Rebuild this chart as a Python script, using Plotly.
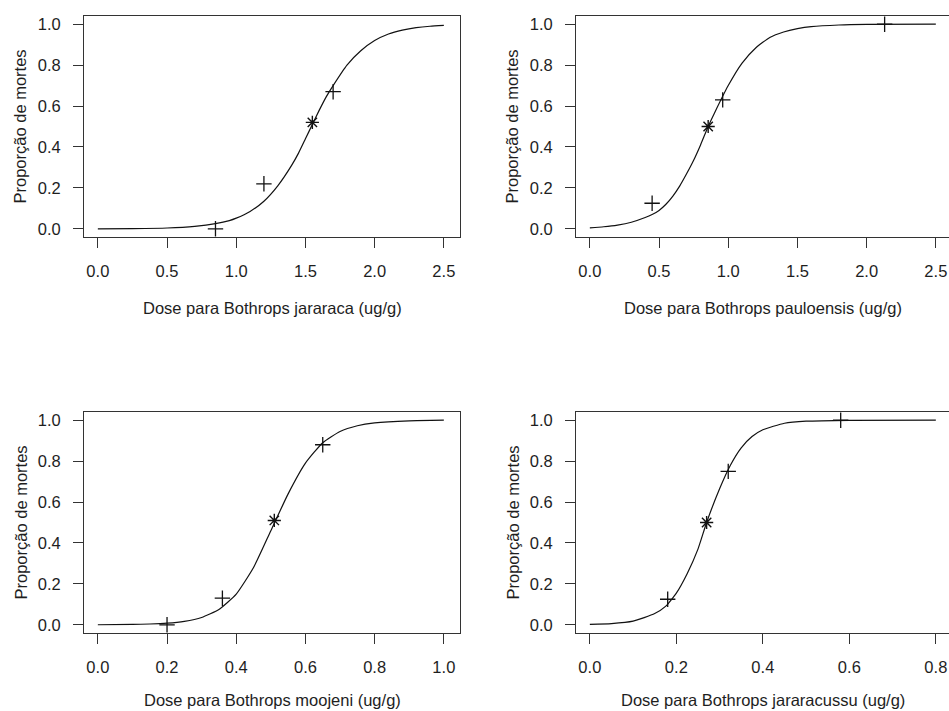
import plotly.graph_objects as go

# ---------------- data ----------------
# Bothrops jararaca
jar_dose = [0.85, 1.20, 1.70]
jar_prop = [0.00, 0.22, 0.67]
jar_ld50_x = [1.55]
jar_ld50_y = [0.52]
jar_curve_x = [0.0, 0.25, 0.5, 0.7, 0.85, 0.95, 1.0, 1.1, 1.2, 1.3, 1.4, 1.45, 1.5, 1.55, 1.6, 1.65, 1.7, 1.8, 1.9, 2.0, 2.1, 2.2, 2.3, 2.4, 2.5]
jar_curve_y = [0.000, 0.001, 0.004, 0.012, 0.025, 0.040, 0.052, 0.085, 0.135, 0.21, 0.31, 0.37, 0.44, 0.51, 0.58, 0.645, 0.70, 0.80, 0.87, 0.92, 0.952, 0.971, 0.983, 0.990, 0.994]

# Bothrops pauloensis
pau_dose = [0.45, 0.96, 2.13]
pau_prop = [0.125, 0.63, 1.00]
pau_ld50_x = [0.855]
pau_ld50_y = [0.50]
pau_curve_x = [0.0, 0.1, 0.2, 0.3, 0.4, 0.45, 0.5, 0.55, 0.6, 0.65, 0.7, 0.75, 0.8, 0.855, 0.9, 1.0, 1.1, 1.2, 1.3, 1.4, 1.5, 1.6, 1.8, 2.0, 2.5]
pau_curve_y = [0.005, 0.010, 0.018, 0.032, 0.055, 0.070, 0.090, 0.12, 0.16, 0.21, 0.27, 0.335, 0.41, 0.50, 0.565, 0.70, 0.81, 0.885, 0.935, 0.962, 0.978, 0.988, 0.996, 0.999, 1.0]

# Bothrops moojeni
moo_dose = [0.20, 0.36, 0.65]
moo_prop = [0.00, 0.13, 0.88]
moo_ld50_x = [0.51]
moo_ld50_y = [0.51]
moo_curve_x = [0.0, 0.1, 0.15, 0.2, 0.25, 0.3, 0.35, 0.4, 0.45, 0.5, 0.55, 0.6, 0.65, 0.7, 0.75, 0.8, 0.9, 1.0]
moo_curve_y = [0.0004, 0.002, 0.004, 0.008, 0.017, 0.036, 0.075, 0.15, 0.28, 0.46, 0.64, 0.79, 0.89, 0.945, 0.973, 0.987, 0.997, 1.0]

# Bothrops jararacussu
jcu_dose = [0.18, 0.32, 0.58]
jcu_prop = [0.125, 0.75, 1.00]
jcu_ld50_x = [0.27]
jcu_ld50_y = [0.50]
jcu_curve_x = [0.0, 0.05, 0.1, 0.15, 0.175, 0.2, 0.225, 0.25, 0.27, 0.3, 0.325, 0.35, 0.375, 0.4, 0.45, 0.5, 0.6, 0.8]
jcu_curve_y = [0.002, 0.006, 0.018, 0.055, 0.09, 0.155, 0.25, 0.37, 0.50, 0.665, 0.78, 0.865, 0.92, 0.953, 0.985, 0.995, 0.9995, 1.0]

x_titles = ["Dose para Bothrops jararaca (ug/g)", "Dose para Bothrops pauloensis (ug/g)",
            "Dose para Bothrops moojeni (ug/g)", "Dose para Bothrops jararacussu (ug/g)"]
y_title = "Proporção de mortes"
x_ticks = [[0.0, 0.5, 1.0, 1.5, 2.0, 2.5], [0.0, 0.5, 1.0, 1.5, 2.0, 2.5],
           [0.0, 0.2, 0.4, 0.6, 0.8, 1.0], [0.0, 0.2, 0.4, 0.6, 0.8]]
y_ticks = [0.0, 0.2, 0.4, 0.6, 0.8, 1.0]

series = [
    (jar_curve_x, jar_curve_y, jar_dose, jar_prop, jar_ld50_x, jar_ld50_y),
    (pau_curve_x, pau_curve_y, pau_dose, pau_prop, pau_ld50_x, pau_ld50_y),
    (moo_curve_x, moo_curve_y, moo_dose, moo_prop, moo_ld50_x, moo_ld50_y),
    (jcu_curve_x, jcu_curve_y, jcu_dose, jcu_prop, jcu_ld50_x, jcu_ld50_y),
]

# ---------------- layout geometry (pixels) ----------------
W, H = 949, 711
# box left/right pixels, x-range start, pixels per unit
boxes_x = [(84, 460, -0.1, 138.4), (576, 949, -0.1, 138.4),
           (84, 460, -0.04, 346.0), (576, 949, -0.032, 432.5)]
boxes_y = [(16, 237), (16, 237), (412, 633), (412, 633)]
title_gap = [71, 71, 67, 67]

FONT = "Liberation Sans, Arial, sans-serif"
TXT = "#1e1e1e"
LINE = "#333333"
INK = "#111111"
FS = 16.5

fig = go.Figure()
layout = dict(width=W, height=H, margin=dict(l=0, r=0, t=0, b=0, pad=0),
              paper_bgcolor="white", plot_bgcolor="white", showlegend=False,
              font=dict(family=FONT, size=FS, color=TXT))
annotations = []

for i, (cx, cy, dx, dy, lx, ly) in enumerate(series):
    n = "" if i == 0 else str(i + 1)
    xa, ya = "x" + n, "y" + n
    fig.add_trace(go.Scatter(x=cx, y=cy, mode="lines",
                             line=dict(color=INK, width=1.2, shape="spline", smoothing=0.5),
                             xaxis=xa, yaxis=ya, hoverinfo="skip"))
    fig.add_trace(go.Scatter(x=dx, y=dy, mode="markers",
                             marker=dict(symbol="cross-thin", size=11, color=INK,
                                         line=dict(color=INK, width=1.3)),
                             xaxis=xa, yaxis=ya))
    fig.add_trace(go.Scatter(x=lx, y=ly, mode="markers",
                             marker=dict(symbol="asterisk-open", size=11, color=INK,
                                         line=dict(color=INK, width=1.4)),
                             xaxis=xa, yaxis=ya))

    l, r, x0, ppu = boxes_x[i]
    t, b = boxes_y[i]
    x1 = x0 + (r - l) / ppu
    common = dict(showline=True, mirror=True, linecolor=LINE, linewidth=1, ticks="outside",
                  ticklen=10, tickcolor=LINE, tickwidth=1, showgrid=False, zeroline=False,
                  tickfont=dict(family=FONT, size=FS, color=TXT), tickformat=".1f",
                  ticklabelstandoff=9, automargin=False)
    layout["xaxis" + n] = dict(common, domain=[l / W, min(r / W, 1.0)], range=[x0, x1],
                               tickvals=x_ticks[i], anchor=ya)
    layout["yaxis" + n] = dict(common, domain=[1 - b / H, 1 - t / H], range=[-0.04, 1.04],
                               tickvals=y_ticks, anchor=xa)
    # x title
    annotations.append(dict(text=x_titles[i], xref="paper", yref="paper",
                            x=((l + (r if r < W else 950)) / 2) / W, y=1 - (b + title_gap[i]) / H,
                            xanchor="center", yanchor="middle", showarrow=False,
                            font=dict(family=FONT, size=FS, color=TXT)))
    # y title
    annotations.append(dict(text=y_title, xref="paper", yref="paper",
                            x=(l - 64) / W, y=1 - ((t + b) / 2) / H, textangle=-90,
                            xanchor="center", yanchor="middle", showarrow=False,
                            font=dict(family=FONT, size=FS, color=TXT)))

layout["annotations"] = annotations
fig.update_layout(**layout)
fig.write_html("out.html", config={"displayModeBar": False},
               post_script="document.body.style.margin='0';document.body.style.padding='0';"
                           "document.documentElement.style.overflow='hidden';")
